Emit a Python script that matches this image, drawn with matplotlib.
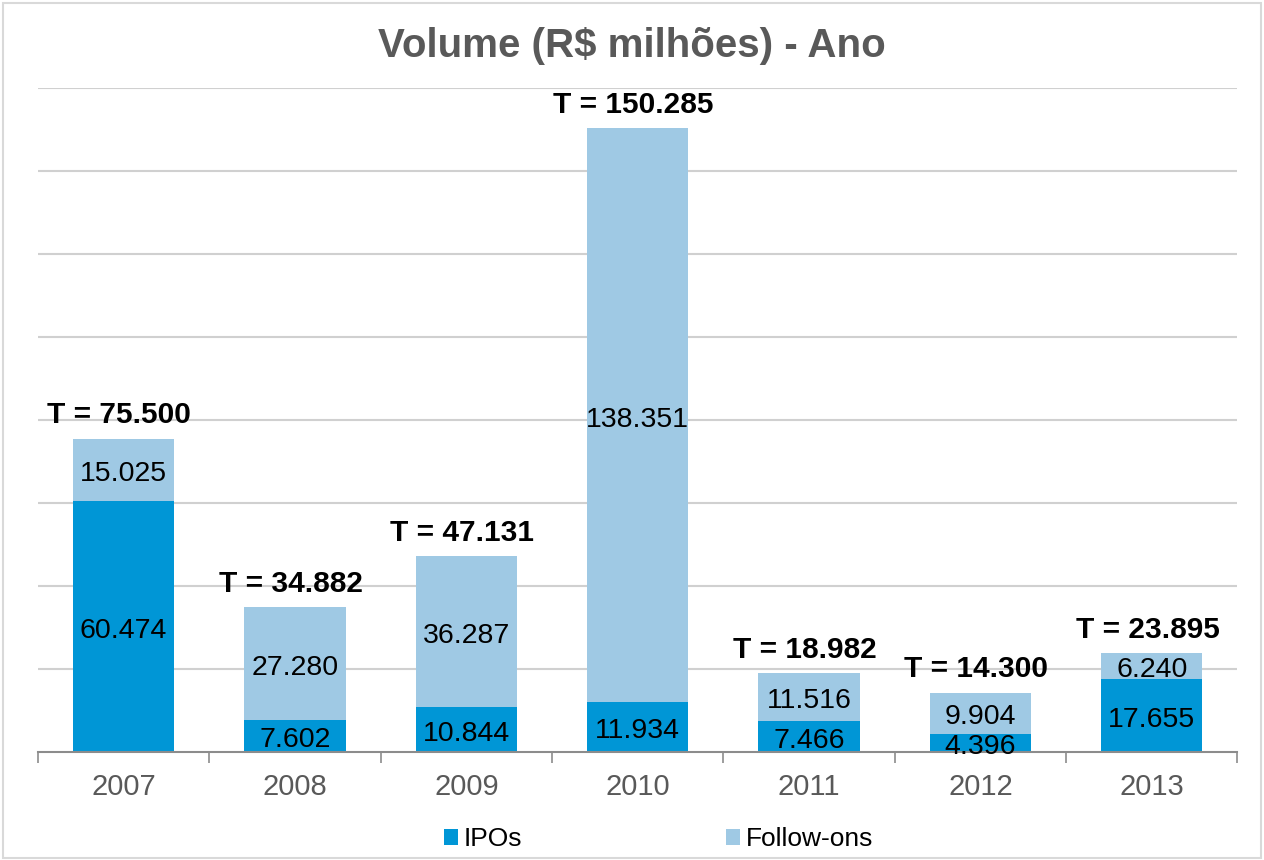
import numpy as np
import matplotlib
matplotlib.use('Agg')
import matplotlib.pyplot as plt
from matplotlib.patches import Rectangle

years = ['2007', '2008', '2009', '2010', '2011', '2012', '2013']
ipos = [60474, 7602, 10844, 11934, 7466, 4396, 17655]
follow_ons = [15025, 27280, 36287, 138351, 11516, 9904, 6240]
totals = [75500, 34882, 47131, 150285, 18982, 14300, 23895]

C_IPO = '#0096D6'
C_FOL = '#9FC9E4'
GREY = '#595959'


def br(v):
    return f'{v:,}'.replace(',', '.')


plt.rcParams['font.family'] = ['Liberation Sans', 'DejaVu Sans']

fig = plt.figure(figsize=(12.64, 8.6), dpi=100)
ax = fig.add_axes([0.030, 0.1256, 0.949, 0.7721])
x = np.arange(len(years))
w = 0.59

b1 = ax.bar(x, ipos, w, color=C_IPO, label='IPOs', zorder=3)
b2 = ax.bar(x, follow_ons, w, bottom=ipos, color=C_FOL, label='Follow-ons', zorder=3)

for i in range(len(years)):
    ax.annotate(br(ipos[i]), (x[i], ipos[i] / 2), xytext=(0, -3),
                textcoords='offset points', ha='center', va='center',
                fontsize=20.5, color='black', zorder=6)
    ax.annotate(br(follow_ons[i]), (x[i], ipos[i] + follow_ons[i] / 2), xytext=(0, -3),
                textcoords='offset points', ha='center', va='center',
                fontsize=20.5, color='black', zorder=6)
    ax.annotate(f'T = {br(totals[i])}', (x[i], ipos[i] + follow_ons[i]),
                xytext=(-3, 11), textcoords='offset points', ha='center',
                va='baseline', fontsize=21.5, fontweight='bold', color='black', zorder=6)

ax.set_xlim(-0.5, len(years) - 0.5)
ax.set_ylim(0, 160000)
ax.set_yticks(np.arange(20000, 160001, 20000))
ax.yaxis.grid(True, color='#D0D0D0', lw=1.5, zorder=0)
ax.tick_params(axis='y', length=0, labelleft=False)
ax.set_xticks(x)
ax.set_xticklabels(years, fontsize=21, color=GREY)
ax.tick_params(axis='x', which='major', length=0, pad=15)
ax.set_xticks(np.arange(-0.5, len(years), 1), minor=True)
ax.tick_params(axis='x', which='minor', length=8, width=1.2, color='#8C8C8C', direction='out')
for s in ('left', 'right', 'top'):
    ax.spines[s].set_visible(False)
ax.spines['bottom'].set_color('#8C8C8C')
ax.spines['bottom'].set_linewidth(1.5)
ax.spines['bottom'].set_zorder(5)

fig.text(0.5, 0.947, 'Volume (R$ milhões) - Ano', ha='center', va='center',
         fontsize=29, fontweight='bold', color=GREY)

fig.legend(handles=[b1, b2], loc='center', bbox_to_anchor=(0.521, 0.024), ncol=2,
           frameon=False, fontsize=19, handlelength=0.53, handleheight=0.5,
           handletextpad=0.23, columnspacing=7.7, borderpad=0)

fig.patches.append(Rectangle((0.002, 0.002), 0.996, 0.995, transform=fig.transFigure,
                             fill=False, edgecolor='#D9D9D9', lw=1.5))

fig.savefig('out.png', dpi=100)
